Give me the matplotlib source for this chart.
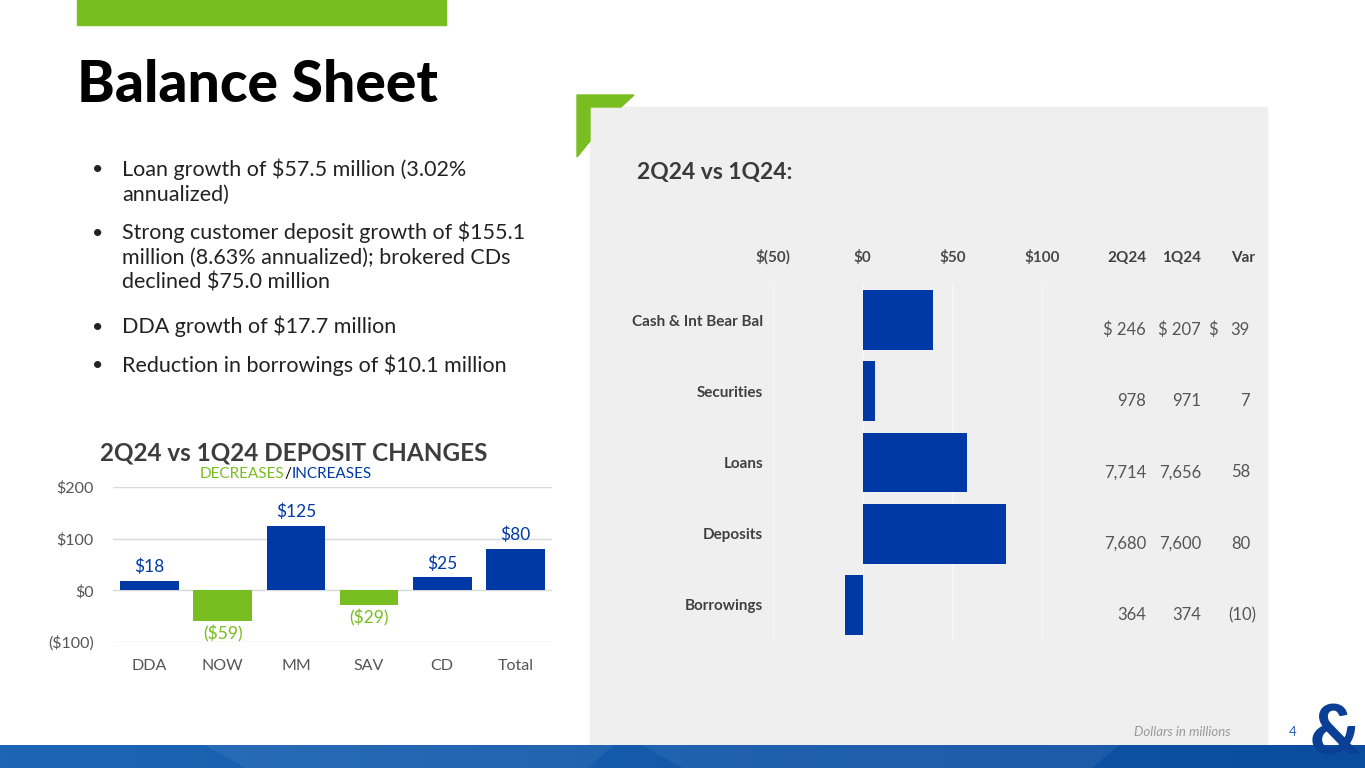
import numpy as np
import matplotlib.pyplot as plt
from matplotlib.patches import Rectangle, Polygon
from matplotlib.transforms import blended_transform_factory

plt.rcParams['font.family'] = ['Lato', 'DejaVu Sans']

# ---- data ----
bullets = [
    "Loan growth of $57.5 million (3.02%\nannualized)",
    "Strong customer deposit growth of $155.1\nmillion (8.63% annualized); brokered CDs\ndeclined $75.0 million",
    "DDA growth of $17.7 million",
    "Reduction in borrowings of $10.1 million",
]
dep_cats = ['DDA', 'NOW', 'MM', 'SAV', 'CD', 'Total']
dep_vals = [18, -59, 125, -29, 25, 80]
dep_ticks = [-100, 0, 100, 200]

bs_cats = ['Cash & Int Bear Bal', 'Securities', 'Loans', 'Deposits', 'Borrowings']
bs_q2 = [246, 978, 7714, 7680, 364]
bs_q1 = [207, 971, 7656, 7600, 374]
bs_var = [39, 7, 58, 80, -10]
bs_ticks = [-50, 0, 50, 100]

BLUE = '#0039a6'
GREEN = '#78be20'
GREY = '#404040'

W, H = 1365, 768
fig = plt.figure(figsize=(W / 100, H / 100), dpi=100)
fig.patch.set_facecolor('white')


def fx(x):
    return x / W


def fy(y):
    return 1 - y / H


# top green bar and title
fig.patches.append(Rectangle((fx(77), fy(25)), fx(446) - fx(77), 25 / H,
                             transform=fig.transFigure, color=GREEN, zorder=-2))
fig.text(fx(77), fy(86), 'Balance Sheet', fontsize=41, fontweight='black',
         color='black', va='center', ha='left')

# bullets
bullet_y = [170, 233, 327, 366]
for y, txt in zip(bullet_y, bullets):
    fig.text(fx(92), fy(y), '\u2022', fontsize=14, color='#222222', va='center')
    fig.text(fx(122), fy(y) + 0.015, txt, fontsize=15.5, color='#222222',
             va='top', linespacing=1.3)

# grey panel with green corner
fig.patches.append(Rectangle((fx(590), fy(745)), fx(1267) - fx(590), (745 - 107) / H,
                             transform=fig.transFigure, color='#efefef', zorder=-2))
corner = [(577, 95), (634, 95), (621, 107), (590, 107), (590, 141), (577, 157)]
fig.patches.append(Polygon([(fx(x), fy(y)) for x, y in corner], closed=True,
                           transform=fig.transFigure, color=GREEN, zorder=-2))
fig.text(fx(637), fy(173), '2Q24 vs 1Q24:', fontsize=16.5, fontweight='bold',
         color='#3a3a3a', va='center')

# ---- horizontal balance sheet chart ----
ax = fig.add_axes([fx(773), fy(640.6), fx(1043) - fx(773), (640.6 - 284.4) / H])
ax.set_facecolor('none')
ypos = np.arange(len(bs_cats))
ax.barh(ypos, bs_var, height=0.84, color=BLUE, zorder=3)
ax.set_xlim(-50, 100.5)
ax.set_ylim(len(bs_cats) - 0.5, -0.5)
ax.set_xticks(bs_ticks)
ax.set_xticklabels(['$(50)', '$0', '$50', '$100'], fontsize=11, fontweight='bold',
                   color='#4a4a4a')
ax.xaxis.tick_top()
ax.tick_params(axis='x', length=0, pad=14)
ax.set_yticks(ypos)
ax.set_yticklabels(bs_cats, fontsize=11, fontweight='bold', color=GREY)
ax.tick_params(axis='y', length=0, pad=7)
ax.grid(axis='x', color='#f8f8f8', linewidth=1, zorder=0)
for s in ax.spines.values():
    s.set_visible(False)

# table next to bars
tr = blended_transform_factory(fig.transFigure, ax.transData)
ty_head = -0.5 - 26 / 71.25
for x, head in zip([1146, 1201, 1255], ['2Q24', '1Q24', 'Var']):
    ax.text(fx(x), ty_head, head, transform=tr, ha='right', va='center',
            fontsize=11, fontweight='bold', color=GREY, clip_on=False)


def fmt(v):
    return '({:,})'.format(-v) if v < 0 else '{:,}'.format(v)


for i in range(len(bs_cats)):
    y = i + 0.14
    a = fmt(bs_q2[i])
    b = fmt(bs_q1[i])
    if i == 0:
        a, b = '$ ' + a, '$ ' + b
        ax.text(fx(1208), y, '$', transform=tr, ha='left', va='center',
                fontsize=12, color='#555555', clip_on=False)
    ax.text(fx(1146), y, a, transform=tr, ha='right', va='center',
            fontsize=12, color='#555555', clip_on=False)
    ax.text(fx(1201), y, b, transform=tr, ha='right', va='center',
            fontsize=12, color='#555555', clip_on=False)
    v = bs_var[i]
    ax.text(fx(1250) if v >= 0 else fx(1256), y, fmt(v), transform=tr, ha='right',
            va='center', fontsize=12, color='#555555', clip_on=False)

fig.text(fx(1230), fy(732), 'Dollars in millions', fontsize=9.5, style='italic',
         color='#9a9a9a', ha='right', va='center')
fig.text(fx(1293), fy(732), '4', fontsize=9.5, color='#2a5db0', ha='center', va='center')

# ---- deposit changes chart ----
ax2 = fig.add_axes([fx(113), fy(642), fx(552) - fx(113), (642 - 487) / H])
ax2.set_facecolor('none')
xpos = np.arange(len(dep_cats))
cols = [BLUE if v >= 0 else GREEN for v in dep_vals]
ax2.bar(xpos, dep_vals, width=0.8, color=cols, zorder=3)
ax2.set_xlim(-0.5, len(dep_cats) - 0.5)
ax2.set_ylim(-100, 200)
ax2.set_yticks(dep_ticks)
ax2.set_yticklabels(['(${})'.format(-t) if t < 0 else '${}'.format(t) for t in dep_ticks],
                    fontsize=11.5, color='#555555')
ax2.set_xticks(xpos)
ax2.set_xticklabels(dep_cats, fontsize=11.5, color='#555555')
ax2.tick_params(length=0)
ax2.tick_params(axis='y', pad=14)
ax2.tick_params(axis='x', pad=12)
ax2.grid(axis='y', color='#d9d9d9', linewidth=1, zorder=0)
for s in ax2.spines.values():
    s.set_visible(False)
for x, v, c in zip(xpos, dep_vals, cols):
    if v >= 0:
        ax2.annotate('${}'.format(v), (x, v), xytext=(0, 4), textcoords='offset points',
                     ha='center', va='bottom', fontsize=12.5, color=BLUE)
    else:
        ax2.annotate('(${})'.format(-v), (x, v), xytext=(0, -3), textcoords='offset points',
                     ha='center', va='top', fontsize=12.5, color=GREEN)

fig.text(fx(294), fy(453), '2Q24 vs 1Q24 DEPOSIT CHANGES', fontsize=17.5,
         fontweight='bold', color='#3d3d3d', ha='center', va='center')
t1 = fig.text(fx(200), fy(474), 'DECREASES', fontsize=11, color=GREEN, va='center')
fig.canvas.draw()
bb = t1.get_window_extent()
t2 = fig.text(bb.x1 / W, fy(474), '/', fontsize=11, color='black', va='center')
bb2 = t2.get_window_extent()
fig.text(bb2.x1 / W, fy(474), 'INCREASES', fontsize=11, color=BLUE, va='center')

# ---- bottom band ----
axb = fig.add_axes([0, 0, 1, 23 / H])
grad = np.linspace(0, 1, 300)
c1 = np.array([0x1e, 0x66, 0xb5]) / 255
c2 = np.array([0x0a, 0x4c, 0x9e]) / 255
img = c1[None, :] * (1 - grad[:, None]) + c2[None, :] * grad[:, None]
axb.imshow(img[None, :, :], aspect='auto', extent=[0, 1, 0, 1])
for (x0, x1) in [(0.15, 0.45), (0.47, 0.82)]:
    axb.add_patch(Polygon([(x0, 1), (x1, 1), (x1 - 0.02, 0), (x0 + 0.03, 0)],
                          color='white', alpha=0.06, lw=0))
axb.set_xlim(0, 1)
axb.set_ylim(0, 1)
axb.axis('off')

# logo ampersand
fig.text(fx(1335), fy(735), '&', fontsize=50, fontweight='black', color='#0a3f96',
         ha='center', va='center', zorder=5)

fig.savefig('out.png', dpi=100)
